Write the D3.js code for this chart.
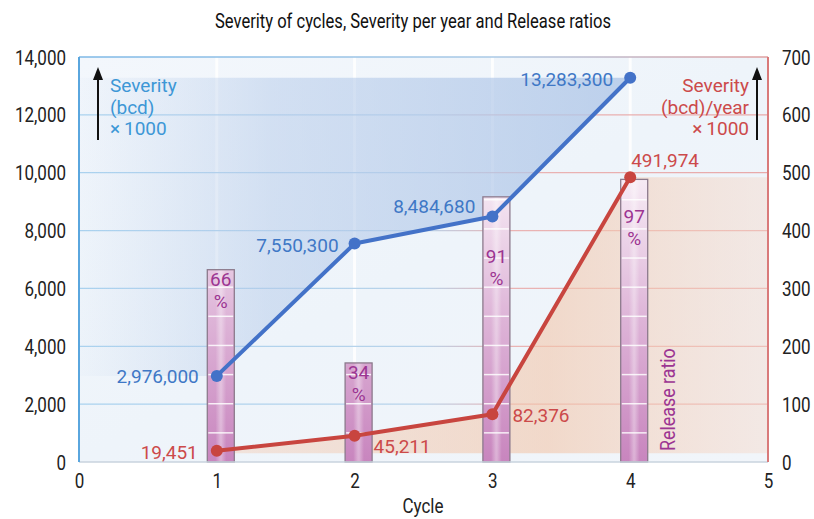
<!DOCTYPE html>
<html>
<head>
<meta charset="utf-8">
<script src="https://cdn.jsdelivr.net/npm/d3@7/dist/d3.min.js"></script>
<style>
  html, body { margin: 0; padding: 0; background: #ffffff; }
  svg { display: block; }
</style>
</head>
<body>
<svg id="chart" width="814" height="519"></svg>
<script>
// ---------------- DATA ----------------
const cycles = [1, 2, 3, 4];
const severity = [2976000, 7550300, 8484680, 13283300];          // bcd
const severityPerYear = [19451, 45211, 82376, 491974];            // bcd/year
const releaseRatio = [66, 34, 91, 97];                            // %
const xTicks = [0, 1, 2, 3, 4, 5];
const leftTicks = [0, 2000, 4000, 6000, 8000, 10000, 12000, 14000];
const rightTicks = [0, 100, 200, 300, 400, 500, 600, 700];
const titleText = "Severity of cycles, Severity per year and Release ratios";
const xTitle = "Cycle";
const leftLegend = ["Severity", "(bcd)", "\u00d7\u20091000"];
const rightLegend = ["Severity", "(bcd)/year", "\u00d7\u20091000"];
const ratioLabel = "Release ratio";

// ---------------- LAYOUT ----------------
const L = 79, R = 768, T = 57, B = 462;
const svg = d3.select("#chart");
const defs = svg.append("defs");

const x = d3.scaleLinear().domain([0, 5]).range([L, R]);
const yL = d3.scaleLinear().domain([0, 14000]).range([B, T]);
const yR = d3.scaleLinear().domain([0, 700]).range([B, T]);
const yRatio = d3.scaleLinear().domain([0, 139]).range([B, T]);

const sans = "Roboto, 'Noto Sans', sans-serif";
const SX = 0.85; // horizontal condensing for Myriad-like narrow text

const blueTxt = "#3f78c6", blueLeg = "#3d97d6", redTxt = "#cc4a4a", purple = "#9c3592";

function ctext(sel, px, py) {
  return sel.attr("transform", `translate(${px},${py}) scale(${SX},1)`).attr("x", 0).attr("y", 0);
}

function lin(id, x1, y1, x2, y2, stops, user) {
  const g = defs.append("linearGradient").attr("id", id)
    .attr("x1", x1).attr("y1", y1).attr("x2", x2).attr("y2", y2);
  if (user) g.attr("gradientUnits", "userSpaceOnUse");
  stops.forEach(s => g.append("stop").attr("offset", s[0]).attr("stop-color", s[1]).attr("stop-opacity", s[2] === undefined ? 1 : s[2]));
  return "url(#" + id + ")";
}
const bgGrad = lin("bg", "0", "0", "1", "1", [[0, "#f3f7fc"], [0.5, "#eef4fa"], [1, "#f1f5fa"]]);
const gridGrad = lin("grid", L, 0, R, 0, [[0, "#a9d2ef"], [0.5, "#b8d3ea"], [0.62, "#eab4b4"], [1, "#e8a9a9"]], true);
const topGrad = lin("topb", L, 0, R, 0, [[0, "#7db8e6"], [0.6, "#a9c9e6"], [1, "#e0a0a0"]], true);
const blueArea = lin("barea", L, 0, x(4), 0, [[0, "#b8cdea", 0.05], [0.35, "#b3c9e9", 0.5], [1, "#b0c7e8", 0.8]], true);
const redArea = lin("rarea", x(1), 0, R, 0, [[0, "#f3c9b0", 0.4], [0.6, "#f2c6aa", 0.6], [1, "#f5d9cb", 0.45]], true);
const barGrad = lin("bar", 0, B, 0, yRatio(100), [[0, "#c885be"], [0.5, "#deb5d8"], [1, "#f8eef6"]], true);
const barShine = lin("shine", "0", "0", "1", "0", [[0, "#ffffff", 0], [0.45, "#ffffff", 0.35], [0.55, "#ffffff", 0.35], [1, "#ffffff", 0]]);

// ---------------- BACKGROUND ----------------
svg.append("rect").attr("x", L).attr("y", T).attr("width", R - L).attr("height", B - T).attr("fill", bgGrad);

svg.append("g").selectAll("line").data(cycles).join("line")
  .attr("x1", d => x(d)).attr("x2", d => x(d)).attr("y1", T).attr("y2", B)
  .attr("stroke", "#ffffff").attr("stroke-width", 3).attr("opacity", 0.9);

svg.append("g").selectAll("line").data(leftTicks.filter(d => d > 0 && d < 14000)).join("line")
  .attr("x1", L).attr("x2", R).attr("y1", d => yL(d)).attr("y2", d => yL(d))
  .attr("stroke", gridGrad).attr("stroke-width", 1.3);

// ---------------- SHADED AREAS ----------------
const bpts = cycles.map((c, i) => [x(c), yL(severity[i] / 1000)]);
const topY = yL(severity[3] / 1000);
const bPoly = [[L + 1, bpts[0][1]], ...bpts, [bpts[3][0], topY], [L + 1, topY]];
svg.append("path").attr("d", d3.line()(bPoly)).attr("fill", blueArea);

const rpts = cycles.map((c, i) => [x(c), yR(severityPerYear[i] / 1000)]);
const baseY = yR(15);
const rPoly = [[rpts[0][0], baseY], ...rpts, [R - 1, rpts[3][1]], [R - 1, baseY]];
svg.append("path").attr("d", d3.line()(rPoly)).attr("fill", redArea);

// ---------------- BARS ----------------
const bw = 27, boff = 4;
const bars = svg.append("g");
cycles.forEach((c, i) => {
  const bx = x(c) + boff - bw / 2, by = yRatio(releaseRatio[i]);
  bars.append("rect").attr("x", bx).attr("y", by).attr("width", bw).attr("height", B - by).attr("fill", barGrad);
  bars.append("rect").attr("x", bx + bw * 0.3).attr("y", by).attr("width", bw * 0.4).attr("height", B - by).attr("fill", barShine);
  const steps = d3.range(10, releaseRatio[i], 10);
  bars.append("g").selectAll("line").data(steps).join("line")
    .attr("x1", bx + 1).attr("x2", bx + bw - 1)
    .attr("y1", d => yRatio(d)).attr("y2", d => yRatio(d))
    .attr("stroke", "#ffffff").attr("stroke-width", 1.5).attr("opacity", 0.85);
  bars.append("rect").attr("x", bx).attr("y", by).attr("width", bw).attr("height", B - by)
    .attr("fill", "none").attr("stroke", "#8c7a8c").attr("stroke-width", 1.3);
});

// ---------------- BORDERS ----------------
svg.append("line").attr("x1", L).attr("x2", R).attr("y1", T).attr("y2", T).attr("stroke", topGrad).attr("stroke-width", 1.5);
svg.append("line").attr("x1", L).attr("x2", R).attr("y1", B).attr("y2", B).attr("stroke", "#c9d3de").attr("stroke-width", 1.5);
svg.append("line").attr("x1", L).attr("x2", L).attr("y1", T).attr("y2", B).attr("stroke", "#5aa6de").attr("stroke-width", 2);
svg.append("line").attr("x1", R).attr("x2", R).attr("y1", T).attr("y2", B).attr("stroke", "#d97a7a").attr("stroke-width", 2);

// ---------------- LINES ----------------
const line = d3.line();
svg.append("path").attr("d", line(rpts)).attr("fill", "none").attr("stroke", "#c8453f").attr("stroke-width", 4).attr("stroke-linejoin", "round");
svg.append("path").attr("d", line(bpts)).attr("fill", "none").attr("stroke", "#4372c8").attr("stroke-width", 4).attr("stroke-linejoin", "round");
svg.append("g").selectAll("circle").data(rpts).join("circle").attr("cx", d => d[0]).attr("cy", d => d[1]).attr("r", 6).attr("fill", "#c8453f");
svg.append("g").selectAll("circle").data(bpts).join("circle").attr("cx", d => d[0]).attr("cy", d => d[1]).attr("r", 6).attr("fill", "#4372c8");

// ---------------- PERCENT LABELS ----------------
cycles.forEach((c, i) => {
  const top = yRatio(releaseRatio[i]);
  const cx = x(c) + boff;
  const near = Math.min(Math.abs(bpts[i][1] - top), Math.abs(rpts[i][1] - top));
  const dotY = Math.abs(bpts[i][1] - top) < Math.abs(rpts[i][1] - top) ? bpts[i][1] : rpts[i][1];
  const base = near < 25 ? dotY + 46 : top + 16;
  svg.append("text").attr("text-anchor", "middle").attr("fill", purple)
    .attr("font-family", sans).attr("font-size", 19).attr("x", cx).attr("y", base).text(releaseRatio[i]);
  svg.append("text").attr("text-anchor", "middle").attr("fill", purple)
    .attr("font-family", sans).attr("font-size", 19).attr("x", cx).attr("y", base + 22).text("%");
});

// ---------------- VALUE LABELS ----------------
const fmt = d3.format(",");
const bPlace = [[-18, 7, "end"], [-16, 8, "end"], [-17, -4, "end"], [-17, 8, "end"]];
const rPlace = [[-19, 8, "end"], [19, 17, "start"], [20, 8, "start"], [1, -10, "start"]];
svg.append("g").selectAll("text").data(bpts).join("text")
  .attr("x", (d, i) => d[0] + bPlace[i][0]).attr("y", (d, i) => d[1] + bPlace[i][1])
  .attr("text-anchor", (d, i) => bPlace[i][2]).attr("fill", blueTxt)
  .attr("font-family", sans).attr("font-size", 19).text((d, i) => fmt(severity[i]));
svg.append("g").selectAll("text").data(rpts).join("text")
  .attr("x", (d, i) => d[0] + rPlace[i][0]).attr("y", (d, i) => d[1] + rPlace[i][1])
  .attr("text-anchor", (d, i) => rPlace[i][2]).attr("fill", redTxt)
  .attr("font-family", sans).attr("font-size", 19).text((d, i) => fmt(severityPerYear[i]));

// ---------------- AXES ----------------
const axL = svg.append("g").attr("transform", `translate(${L},0)`)
  .call(d3.axisLeft(yL).tickValues(leftTicks).tickFormat(d3.format(",")).tickSize(0));
const axR = svg.append("g").attr("transform", `translate(${R},0)`)
  .call(d3.axisRight(yR).tickValues(rightTicks).tickFormat(d3.format("d")).tickSize(0));
const axB = svg.append("g").attr("transform", `translate(0,${B})`)
  .call(d3.axisBottom(x).tickValues(xTicks).tickFormat(d3.format("d")).tickSize(0));
[axL, axR, axB].forEach(a => {
  a.select(".domain").remove();
  a.selectAll("text").attr("font-family", sans).attr("font-size", 20).attr("fill", "#222").attr("dy", null);
});
axL.selectAll("text").attr("transform", `translate(-13,7) scale(${SX},1)`).attr("x", 0);
axR.selectAll("text").attr("transform", `translate(14,7) scale(${SX},1)`).attr("x", 0);
axB.selectAll("text").attr("transform", `translate(0,26) scale(${SX},1)`).attr("y", 0);

// ---------------- TITLES ----------------
ctext(svg.append("text"), 413, 28).attr("text-anchor", "middle")
  .attr("font-family", sans).attr("font-size", 19.5).attr("fill", "#111").text(titleText);
ctext(svg.append("text"), 423, 513).attr("text-anchor", "middle")
  .attr("font-family", sans).attr("font-size", 20).attr("fill", "#222").text(xTitle);

// ---------------- LEGENDS ----------------
function arrow(ax) {
  svg.append("line").attr("x1", ax).attr("x2", ax).attr("y1", 140).attr("y2", 76)
    .attr("stroke", "#111").attr("stroke-width", 2);
  svg.append("path").attr("d", `M${ax},67 L${ax - 5},80 L${ax + 5},80 Z`).attr("fill", "#111");
}
arrow(98);
arrow(757);
svg.append("g").selectAll("text").data(leftLegend).join("text")
  .attr("x", 110).attr("y", (d, i) => 92 + i * 21.5).attr("fill", blueLeg)
  .attr("font-family", sans).attr("font-size", 19).text(d => d);
svg.append("g").selectAll("text").data(rightLegend).join("text")
  .attr("x", 749).attr("y", (d, i) => 92 + i * 21.5).attr("text-anchor", "end").attr("fill", redTxt)
  .attr("font-family", sans).attr("font-size", 19).text(d => d);

// Release ratio vertical label
svg.append("text").attr("transform", `translate(675,451) rotate(-90) scale(${SX},1)`)
  .attr("fill", purple).attr("font-family", sans).attr("font-size", 21).text(ratioLabel);
</script>
</body>
</html>
